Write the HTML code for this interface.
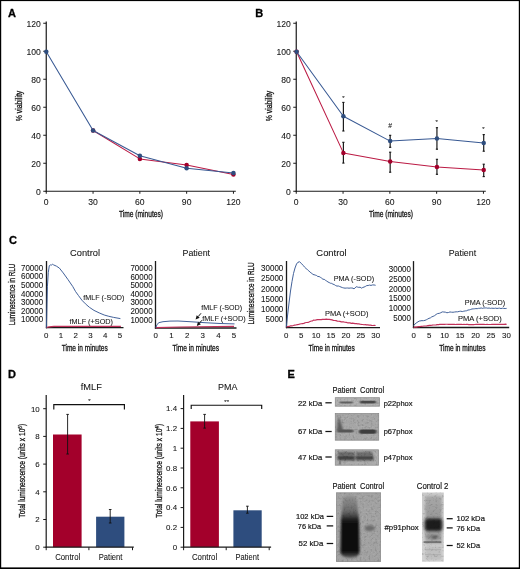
<!DOCTYPE html>
<html><head><meta charset="utf-8"><style>
html,body{margin:0;padding:0;background:#fff;}
svg{display:block;font-family:"Liberation Sans", sans-serif;} text{opacity:0.999}
</style></head><body>
<svg width="520" height="569" viewBox="0 0 520 569">
<rect width="520" height="569" fill="#fff"/>
<rect x="0" y="0" width="520" height="1.1" fill="#000"/>
<rect x="0" y="0" width="1.2" height="569" fill="#000"/>
<rect x="518.8" y="0" width="1.2" height="569" fill="#000"/>
<rect x="0" y="567.4" width="520" height="1.6" fill="#000"/>
<text x="8" y="17" font-size="11" text-anchor="start" font-weight="bold" fill="#000" stroke="#000" stroke-width="0.3">A</text>
<line x1="46.25" y1="21.5" x2="46.25" y2="191.85" stroke="#1a1a1a" stroke-width="1.2"/>
<line x1="45.65" y1="191.25" x2="235.8" y2="191.25" stroke="#1a1a1a" stroke-width="1.2"/>
<line x1="43.25" y1="191.25" x2="46.25" y2="191.25" stroke="#1a1a1a" stroke-width="1"/>
<text x="40.75" y="195.15" font-size="8.6" text-anchor="end" font-weight="normal" fill="#161616" stroke="#161616" stroke-width="0.08">0</text>
<line x1="43.25" y1="163.25" x2="46.25" y2="163.25" stroke="#1a1a1a" stroke-width="1"/>
<text x="40.75" y="167.15" font-size="8.6" text-anchor="end" font-weight="normal" fill="#161616" stroke="#161616" stroke-width="0.08">20</text>
<line x1="43.25" y1="135.25" x2="46.25" y2="135.25" stroke="#1a1a1a" stroke-width="1"/>
<text x="40.75" y="139.15" font-size="8.6" text-anchor="end" font-weight="normal" fill="#161616" stroke="#161616" stroke-width="0.08">40</text>
<line x1="43.25" y1="107.25" x2="46.25" y2="107.25" stroke="#1a1a1a" stroke-width="1"/>
<text x="40.75" y="111.15" font-size="8.6" text-anchor="end" font-weight="normal" fill="#161616" stroke="#161616" stroke-width="0.08">60</text>
<line x1="43.25" y1="79.25" x2="46.25" y2="79.25" stroke="#1a1a1a" stroke-width="1"/>
<text x="40.75" y="83.15" font-size="8.6" text-anchor="end" font-weight="normal" fill="#161616" stroke="#161616" stroke-width="0.08">80</text>
<line x1="43.25" y1="51.25" x2="46.25" y2="51.25" stroke="#1a1a1a" stroke-width="1"/>
<text x="40.75" y="55.15" font-size="8.6" text-anchor="end" font-weight="normal" fill="#161616" stroke="#161616" stroke-width="0.08">100</text>
<line x1="43.25" y1="23.25" x2="46.25" y2="23.25" stroke="#1a1a1a" stroke-width="1"/>
<text x="40.75" y="27.15" font-size="8.6" text-anchor="end" font-weight="normal" fill="#161616" stroke="#161616" stroke-width="0.08">120</text>
<line x1="46.25" y1="191.25" x2="46.25" y2="193.75" stroke="#1a1a1a" stroke-width="1"/>
<text x="46.25" y="204.6" font-size="8.6" text-anchor="middle" font-weight="normal" fill="#161616" stroke="#161616" stroke-width="0.08">0</text>
<line x1="93.05" y1="191.25" x2="93.05" y2="193.75" stroke="#1a1a1a" stroke-width="1"/>
<text x="93.05" y="204.6" font-size="8.6" text-anchor="middle" font-weight="normal" fill="#161616" stroke="#161616" stroke-width="0.08">30</text>
<line x1="139.85" y1="191.25" x2="139.85" y2="193.75" stroke="#1a1a1a" stroke-width="1"/>
<text x="139.85" y="204.6" font-size="8.6" text-anchor="middle" font-weight="normal" fill="#161616" stroke="#161616" stroke-width="0.08">60</text>
<line x1="186.64999999999998" y1="191.25" x2="186.64999999999998" y2="193.75" stroke="#1a1a1a" stroke-width="1"/>
<text x="186.64999999999998" y="204.6" font-size="8.6" text-anchor="middle" font-weight="normal" fill="#161616" stroke="#161616" stroke-width="0.08">90</text>
<line x1="233.45" y1="191.25" x2="233.45" y2="193.75" stroke="#1a1a1a" stroke-width="1"/>
<text x="233.45" y="204.6" font-size="8.6" text-anchor="middle" font-weight="normal" fill="#161616" stroke="#161616" stroke-width="0.08">120</text>
<text x="141" y="216.8" font-size="9" text-anchor="middle" font-weight="normal" fill="#161616" stroke="#161616" stroke-width="0.32" textLength="44" lengthAdjust="spacingAndGlyphs">Time (minutes)</text>
<text transform="translate(21.8,106) rotate(-90)" x="0" y="0" font-size="9" text-anchor="middle" fill="#161616" stroke="#161616" stroke-width="0.32" textLength="30.5" lengthAdjust="spacingAndGlyphs">% viability</text>
<polyline points="93.08,130.50 139.86,158.90 186.64,164.90 233.42,174.60" fill="none" stroke="#bb1a44" stroke-width="1.05" stroke-linejoin="round"/>
<circle cx="93.08" cy="130.5" r="2.25" fill="#a3002b"/>
<circle cx="139.86" cy="158.9" r="2.25" fill="#a3002b"/>
<circle cx="186.64" cy="164.9" r="2.25" fill="#a3002b"/>
<circle cx="233.42000000000002" cy="174.6" r="2.25" fill="#a3002b"/>
<polyline points="46.30,51.80 93.08,130.50 139.86,155.70 186.64,168.20 233.42,173.00" fill="none" stroke="#385993" stroke-width="1.05" stroke-linejoin="round"/>
<circle cx="46.3" cy="51.8" r="2.25" fill="#2e4d7e"/>
<circle cx="93.08" cy="130.5" r="2.25" fill="#2e4d7e"/>
<circle cx="139.86" cy="155.7" r="2.25" fill="#2e4d7e"/>
<circle cx="186.64" cy="168.2" r="2.25" fill="#2e4d7e"/>
<circle cx="233.42000000000002" cy="173" r="2.25" fill="#2e4d7e"/>
<text x="255.3" y="17" font-size="11" text-anchor="start" font-weight="bold" fill="#000" stroke="#000" stroke-width="0.3">B</text>
<line x1="296.25" y1="21.5" x2="296.25" y2="191.85" stroke="#1a1a1a" stroke-width="1.2"/>
<line x1="295.65" y1="191.25" x2="485.8" y2="191.25" stroke="#1a1a1a" stroke-width="1.2"/>
<line x1="293.25" y1="191.25" x2="296.25" y2="191.25" stroke="#1a1a1a" stroke-width="1"/>
<text x="290.75" y="195.15" font-size="8.6" text-anchor="end" font-weight="normal" fill="#161616" stroke="#161616" stroke-width="0.08">0</text>
<line x1="293.25" y1="163.25" x2="296.25" y2="163.25" stroke="#1a1a1a" stroke-width="1"/>
<text x="290.75" y="167.15" font-size="8.6" text-anchor="end" font-weight="normal" fill="#161616" stroke="#161616" stroke-width="0.08">20</text>
<line x1="293.25" y1="135.25" x2="296.25" y2="135.25" stroke="#1a1a1a" stroke-width="1"/>
<text x="290.75" y="139.15" font-size="8.6" text-anchor="end" font-weight="normal" fill="#161616" stroke="#161616" stroke-width="0.08">40</text>
<line x1="293.25" y1="107.25" x2="296.25" y2="107.25" stroke="#1a1a1a" stroke-width="1"/>
<text x="290.75" y="111.15" font-size="8.6" text-anchor="end" font-weight="normal" fill="#161616" stroke="#161616" stroke-width="0.08">60</text>
<line x1="293.25" y1="79.25" x2="296.25" y2="79.25" stroke="#1a1a1a" stroke-width="1"/>
<text x="290.75" y="83.15" font-size="8.6" text-anchor="end" font-weight="normal" fill="#161616" stroke="#161616" stroke-width="0.08">80</text>
<line x1="293.25" y1="51.25" x2="296.25" y2="51.25" stroke="#1a1a1a" stroke-width="1"/>
<text x="290.75" y="55.15" font-size="8.6" text-anchor="end" font-weight="normal" fill="#161616" stroke="#161616" stroke-width="0.08">100</text>
<line x1="293.25" y1="23.25" x2="296.25" y2="23.25" stroke="#1a1a1a" stroke-width="1"/>
<text x="290.75" y="27.15" font-size="8.6" text-anchor="end" font-weight="normal" fill="#161616" stroke="#161616" stroke-width="0.08">120</text>
<line x1="296.25" y1="191.25" x2="296.25" y2="193.75" stroke="#1a1a1a" stroke-width="1"/>
<text x="296.25" y="204.6" font-size="8.6" text-anchor="middle" font-weight="normal" fill="#161616" stroke="#161616" stroke-width="0.08">0</text>
<line x1="343.05" y1="191.25" x2="343.05" y2="193.75" stroke="#1a1a1a" stroke-width="1"/>
<text x="343.05" y="204.6" font-size="8.6" text-anchor="middle" font-weight="normal" fill="#161616" stroke="#161616" stroke-width="0.08">30</text>
<line x1="389.85" y1="191.25" x2="389.85" y2="193.75" stroke="#1a1a1a" stroke-width="1"/>
<text x="389.85" y="204.6" font-size="8.6" text-anchor="middle" font-weight="normal" fill="#161616" stroke="#161616" stroke-width="0.08">60</text>
<line x1="436.65" y1="191.25" x2="436.65" y2="193.75" stroke="#1a1a1a" stroke-width="1"/>
<text x="436.65" y="204.6" font-size="8.6" text-anchor="middle" font-weight="normal" fill="#161616" stroke="#161616" stroke-width="0.08">90</text>
<line x1="483.45" y1="191.25" x2="483.45" y2="193.75" stroke="#1a1a1a" stroke-width="1"/>
<text x="483.45" y="204.6" font-size="8.6" text-anchor="middle" font-weight="normal" fill="#161616" stroke="#161616" stroke-width="0.08">120</text>
<text x="391" y="216.8" font-size="9" text-anchor="middle" font-weight="normal" fill="#161616" stroke="#161616" stroke-width="0.32" textLength="44" lengthAdjust="spacingAndGlyphs">Time (minutes)</text>
<text transform="translate(271.8,106) rotate(-90)" x="0" y="0" font-size="9" text-anchor="middle" fill="#161616" stroke="#161616" stroke-width="0.32" textLength="30.5" lengthAdjust="spacingAndGlyphs">% viability</text>
<line x1="343.38" y1="102.4" x2="343.38" y2="131" stroke="#111" stroke-width="1.15"/>
<line x1="342.28" y1="102.4" x2="344.48" y2="102.4" stroke="#111" stroke-width="1.1"/>
<line x1="342.28" y1="131" x2="344.48" y2="131" stroke="#111" stroke-width="1.1"/>
<line x1="390.16" y1="135.3" x2="390.16" y2="147.3" stroke="#111" stroke-width="1.15"/>
<line x1="389.06" y1="135.3" x2="391.26000000000005" y2="135.3" stroke="#111" stroke-width="1.1"/>
<line x1="389.06" y1="147.3" x2="391.26000000000005" y2="147.3" stroke="#111" stroke-width="1.1"/>
<line x1="436.94000000000005" y1="127.7" x2="436.94000000000005" y2="149.2" stroke="#111" stroke-width="1.15"/>
<line x1="435.84000000000003" y1="127.7" x2="438.0400000000001" y2="127.7" stroke="#111" stroke-width="1.1"/>
<line x1="435.84000000000003" y1="149.2" x2="438.0400000000001" y2="149.2" stroke="#111" stroke-width="1.1"/>
<line x1="483.72" y1="134.6" x2="483.72" y2="151.2" stroke="#111" stroke-width="1.15"/>
<line x1="482.62" y1="134.6" x2="484.82000000000005" y2="134.6" stroke="#111" stroke-width="1.1"/>
<line x1="482.62" y1="151.2" x2="484.82000000000005" y2="151.2" stroke="#111" stroke-width="1.1"/>
<line x1="343.38" y1="142.3" x2="343.38" y2="163.1" stroke="#111" stroke-width="1.15"/>
<line x1="342.28" y1="142.3" x2="344.48" y2="142.3" stroke="#111" stroke-width="1.1"/>
<line x1="342.28" y1="163.1" x2="344.48" y2="163.1" stroke="#111" stroke-width="1.1"/>
<line x1="390.16" y1="152.2" x2="390.16" y2="172.2" stroke="#111" stroke-width="1.15"/>
<line x1="389.06" y1="152.2" x2="391.26000000000005" y2="152.2" stroke="#111" stroke-width="1.1"/>
<line x1="389.06" y1="172.2" x2="391.26000000000005" y2="172.2" stroke="#111" stroke-width="1.1"/>
<line x1="436.94000000000005" y1="159.3" x2="436.94000000000005" y2="174.3" stroke="#111" stroke-width="1.15"/>
<line x1="435.84000000000003" y1="159.3" x2="438.0400000000001" y2="159.3" stroke="#111" stroke-width="1.1"/>
<line x1="435.84000000000003" y1="174.3" x2="438.0400000000001" y2="174.3" stroke="#111" stroke-width="1.1"/>
<line x1="483.72" y1="164.2" x2="483.72" y2="176.6" stroke="#111" stroke-width="1.15"/>
<line x1="482.62" y1="164.2" x2="484.82000000000005" y2="164.2" stroke="#111" stroke-width="1.1"/>
<line x1="482.62" y1="176.6" x2="484.82000000000005" y2="176.6" stroke="#111" stroke-width="1.1"/>
<polyline points="296.60,51.80 343.38,152.90 390.16,161.60 436.94,166.90 483.72,169.90" fill="none" stroke="#bb1a44" stroke-width="1.05" stroke-linejoin="round"/>
<circle cx="296.6" cy="51.8" r="2.25" fill="#a3002b"/>
<circle cx="343.38" cy="152.9" r="2.25" fill="#a3002b"/>
<circle cx="390.16" cy="161.6" r="2.25" fill="#a3002b"/>
<circle cx="436.94000000000005" cy="166.9" r="2.25" fill="#a3002b"/>
<circle cx="483.72" cy="169.9" r="2.25" fill="#a3002b"/>
<polyline points="296.60,51.80 343.38,116.20 390.16,141.10 436.94,138.50 483.72,142.90" fill="none" stroke="#385993" stroke-width="1.05" stroke-linejoin="round"/>
<circle cx="296.6" cy="51.8" r="2.25" fill="#2e4d7e"/>
<circle cx="343.38" cy="116.2" r="2.25" fill="#2e4d7e"/>
<circle cx="390.16" cy="141.1" r="2.25" fill="#2e4d7e"/>
<circle cx="436.94000000000005" cy="138.5" r="2.25" fill="#2e4d7e"/>
<circle cx="483.72" cy="142.9" r="2.25" fill="#2e4d7e"/>
<text x="343.3" y="99.5" font-size="6" text-anchor="middle" font-weight="normal" fill="#161616" stroke="#161616" stroke-width="0.08">*</text>
<text x="390.2" y="127.9" font-size="6.8" text-anchor="middle" font-weight="normal" fill="#161616" stroke="#161616" stroke-width="0.08">#</text>
<text x="436.7" y="124" font-size="6" text-anchor="middle" font-weight="normal" fill="#161616" stroke="#161616" stroke-width="0.08">*</text>
<text x="483.5" y="131" font-size="6" text-anchor="middle" font-weight="normal" fill="#161616" stroke="#161616" stroke-width="0.08">*</text>
<text x="9" y="244.3" font-size="11" text-anchor="start" font-weight="bold" fill="#000" stroke="#000" stroke-width="0.3">C</text>
<text x="85" y="255.8" font-size="9.6" text-anchor="middle" font-weight="normal" fill="#161616" stroke="#161616" stroke-width="0.08" textLength="30" lengthAdjust="spacingAndGlyphs">Control</text>
<line x1="46.5" y1="261" x2="46.5" y2="328.3" stroke="#1a1a1a" stroke-width="1.3"/>
<line x1="45.9" y1="327.7" x2="123.5" y2="327.7" stroke="#1a1a1a" stroke-width="1.3"/>
<text x="43.2" y="270.9" font-size="8.2" text-anchor="end" font-weight="normal" fill="#161616" stroke="#161616" stroke-width="0.08" textLength="22.2" lengthAdjust="spacingAndGlyphs">70000</text>
<text x="43.2" y="279.47999999999996" font-size="8.2" text-anchor="end" font-weight="normal" fill="#161616" stroke="#161616" stroke-width="0.08" textLength="22.2" lengthAdjust="spacingAndGlyphs">60000</text>
<text x="43.2" y="288.06" font-size="8.2" text-anchor="end" font-weight="normal" fill="#161616" stroke="#161616" stroke-width="0.08" textLength="22.2" lengthAdjust="spacingAndGlyphs">50000</text>
<text x="43.2" y="296.64" font-size="8.2" text-anchor="end" font-weight="normal" fill="#161616" stroke="#161616" stroke-width="0.08" textLength="22.2" lengthAdjust="spacingAndGlyphs">40000</text>
<text x="43.2" y="305.21999999999997" font-size="8.2" text-anchor="end" font-weight="normal" fill="#161616" stroke="#161616" stroke-width="0.08" textLength="22.2" lengthAdjust="spacingAndGlyphs">30000</text>
<text x="43.2" y="313.79999999999995" font-size="8.2" text-anchor="end" font-weight="normal" fill="#161616" stroke="#161616" stroke-width="0.08" textLength="22.2" lengthAdjust="spacingAndGlyphs">20000</text>
<text x="43.2" y="322.38" font-size="8.2" text-anchor="end" font-weight="normal" fill="#161616" stroke="#161616" stroke-width="0.08" textLength="22.2" lengthAdjust="spacingAndGlyphs">10000</text>
<text x="46.3" y="337.9" font-size="7.9" text-anchor="middle" font-weight="normal" fill="#161616" stroke="#161616" stroke-width="0.08">0</text>
<text x="61.019999999999996" y="337.9" font-size="7.9" text-anchor="middle" font-weight="normal" fill="#161616" stroke="#161616" stroke-width="0.08">1</text>
<text x="75.74" y="337.9" font-size="7.9" text-anchor="middle" font-weight="normal" fill="#161616" stroke="#161616" stroke-width="0.08">2</text>
<text x="90.46000000000001" y="337.9" font-size="7.9" text-anchor="middle" font-weight="normal" fill="#161616" stroke="#161616" stroke-width="0.08">3</text>
<text x="105.18" y="337.9" font-size="7.9" text-anchor="middle" font-weight="normal" fill="#161616" stroke="#161616" stroke-width="0.08">4</text>
<text x="119.9" y="337.9" font-size="7.9" text-anchor="middle" font-weight="normal" fill="#161616" stroke="#161616" stroke-width="0.08">5</text>
<text x="84.7" y="351.2" font-size="9" text-anchor="middle" font-weight="normal" fill="#161616" stroke="#161616" stroke-width="0.32" textLength="46" lengthAdjust="spacingAndGlyphs">Time in minutes</text>
<text transform="translate(14.8,294.4) rotate(-90)" x="0" y="0" font-size="9" text-anchor="middle" fill="#161616" stroke="#161616" stroke-width="0.32" textLength="61.5" lengthAdjust="spacingAndGlyphs">Luminescence in RLU</text>
<polyline points="46.40,327.60 49.00,326.80 54.00,326.40 70.00,326.30 120.90,326.30" fill="none" stroke="#c2305a" stroke-width="1.2" stroke-linejoin="round"/>
<polyline points="46.40,327.70 47.40,286.80 48.30,272.40 49.30,265.70 50.25,264.90 51.20,265.20 52.65,264.25 53.60,264.90 56.50,266.20 59.40,268.10 63.20,272.90 68.00,279.60 72.80,286.60 75.60,291.60 78.50,295.60 81.90,300.20 85.40,303.80 89.40,307.30 94.00,310.40 99.20,312.90 104.20,315.00 108.80,316.30 113.65,317.40 120.40,318.60" fill="none" stroke="#385993" stroke-width="0.95" stroke-linejoin="round"/>
<text x="83.3" y="299.6" font-size="7.8" text-anchor="start" font-weight="normal" fill="#161616" stroke="#161616" stroke-width="0.08" textLength="41" lengthAdjust="spacingAndGlyphs">fMLF (-SOD)</text>
<text x="69.5" y="324.3" font-size="7.8" text-anchor="start" font-weight="normal" fill="#161616" stroke="#161616" stroke-width="0.08" textLength="43.5" lengthAdjust="spacingAndGlyphs">fMLF (+SOD)</text>
<text x="196.3" y="255.8" font-size="9.6" text-anchor="middle" font-weight="normal" fill="#161616" stroke="#161616" stroke-width="0.08" textLength="27.5" lengthAdjust="spacingAndGlyphs">Patient</text>
<line x1="155.5" y1="261" x2="155.5" y2="328.6" stroke="#1a1a1a" stroke-width="1.3"/>
<line x1="154.9" y1="328" x2="236.5" y2="328" stroke="#1a1a1a" stroke-width="1.3"/>
<text x="152.6" y="271.2" font-size="8.2" text-anchor="end" font-weight="normal" fill="#161616" stroke="#161616" stroke-width="0.08" textLength="22.2" lengthAdjust="spacingAndGlyphs">70000</text>
<text x="152.6" y="279.75" font-size="8.2" text-anchor="end" font-weight="normal" fill="#161616" stroke="#161616" stroke-width="0.08" textLength="22.2" lengthAdjust="spacingAndGlyphs">60000</text>
<text x="152.6" y="288.3" font-size="8.2" text-anchor="end" font-weight="normal" fill="#161616" stroke="#161616" stroke-width="0.08" textLength="22.2" lengthAdjust="spacingAndGlyphs">50000</text>
<text x="152.6" y="296.84999999999997" font-size="8.2" text-anchor="end" font-weight="normal" fill="#161616" stroke="#161616" stroke-width="0.08" textLength="22.2" lengthAdjust="spacingAndGlyphs">40000</text>
<text x="152.6" y="305.4" font-size="8.2" text-anchor="end" font-weight="normal" fill="#161616" stroke="#161616" stroke-width="0.08" textLength="22.2" lengthAdjust="spacingAndGlyphs">30000</text>
<text x="152.6" y="313.95" font-size="8.2" text-anchor="end" font-weight="normal" fill="#161616" stroke="#161616" stroke-width="0.08" textLength="22.2" lengthAdjust="spacingAndGlyphs">20000</text>
<text x="152.6" y="322.5" font-size="8.2" text-anchor="end" font-weight="normal" fill="#161616" stroke="#161616" stroke-width="0.08" textLength="22.2" lengthAdjust="spacingAndGlyphs">10000</text>
<text x="155.8" y="337.9" font-size="7.9" text-anchor="middle" font-weight="normal" fill="#161616" stroke="#161616" stroke-width="0.08">0</text>
<text x="171.44" y="337.9" font-size="7.9" text-anchor="middle" font-weight="normal" fill="#161616" stroke="#161616" stroke-width="0.08">1</text>
<text x="187.08" y="337.9" font-size="7.9" text-anchor="middle" font-weight="normal" fill="#161616" stroke="#161616" stroke-width="0.08">2</text>
<text x="202.72000000000003" y="337.9" font-size="7.9" text-anchor="middle" font-weight="normal" fill="#161616" stroke="#161616" stroke-width="0.08">3</text>
<text x="218.36" y="337.9" font-size="7.9" text-anchor="middle" font-weight="normal" fill="#161616" stroke="#161616" stroke-width="0.08">4</text>
<text x="234.0" y="337.9" font-size="7.9" text-anchor="middle" font-weight="normal" fill="#161616" stroke="#161616" stroke-width="0.08">5</text>
<text x="195.8" y="351.2" font-size="9" text-anchor="middle" font-weight="normal" fill="#161616" stroke="#161616" stroke-width="0.32" textLength="46.5" lengthAdjust="spacingAndGlyphs">Time in minutes</text>
<polyline points="155.80,327.60 180.00,327.00 234.00,326.30" fill="none" stroke="#c2305a" stroke-width="1.2" stroke-linejoin="round"/>
<polyline points="155.80,327.70 157.00,324.50 159.00,322.60 163.00,321.70 170.00,321.10 178.00,321.00 190.00,321.70 205.00,322.70 220.00,323.50 234.50,323.90" fill="none" stroke="#385993" stroke-width="0.95" stroke-linejoin="round"/>
<text x="201.2" y="310.2" font-size="7.8" text-anchor="start" font-weight="normal" fill="#161616" stroke="#161616" stroke-width="0.08" textLength="41" lengthAdjust="spacingAndGlyphs">fMLF (-SOD)</text>
<text x="202.3" y="320.8" font-size="7.8" text-anchor="start" font-weight="normal" fill="#161616" stroke="#161616" stroke-width="0.08" textLength="43.3" lengthAdjust="spacingAndGlyphs">fMLF (+SOD)</text>
<text x="331.5" y="255.8" font-size="9.6" text-anchor="middle" font-weight="normal" fill="#161616" stroke="#161616" stroke-width="0.08" textLength="30.3" lengthAdjust="spacingAndGlyphs">Control</text>
<line x1="286.5" y1="261" x2="286.5" y2="328.20000000000005" stroke="#1a1a1a" stroke-width="1.3"/>
<line x1="285.9" y1="327.6" x2="380" y2="327.6" stroke="#1a1a1a" stroke-width="1.3"/>
<text x="283.3" y="271.09999999999997" font-size="8.2" text-anchor="end" font-weight="normal" fill="#161616" stroke="#161616" stroke-width="0.08" textLength="22.2" lengthAdjust="spacingAndGlyphs">30000</text>
<text x="283.3" y="281.29999999999995" font-size="8.2" text-anchor="end" font-weight="normal" fill="#161616" stroke="#161616" stroke-width="0.08" textLength="22.2" lengthAdjust="spacingAndGlyphs">25000</text>
<text x="283.3" y="291.49999999999994" font-size="8.2" text-anchor="end" font-weight="normal" fill="#161616" stroke="#161616" stroke-width="0.08" textLength="22.2" lengthAdjust="spacingAndGlyphs">20000</text>
<text x="283.3" y="301.7" font-size="8.2" text-anchor="end" font-weight="normal" fill="#161616" stroke="#161616" stroke-width="0.08" textLength="22.2" lengthAdjust="spacingAndGlyphs">15000</text>
<text x="283.3" y="311.9" font-size="8.2" text-anchor="end" font-weight="normal" fill="#161616" stroke="#161616" stroke-width="0.08" textLength="22.2" lengthAdjust="spacingAndGlyphs">10000</text>
<text x="283.3" y="322.09999999999997" font-size="8.2" text-anchor="end" font-weight="normal" fill="#161616" stroke="#161616" stroke-width="0.08" textLength="17.8" lengthAdjust="spacingAndGlyphs">5000</text>
<text x="286.3" y="337.9" font-size="7.9" text-anchor="middle" font-weight="normal" fill="#161616" stroke="#161616" stroke-width="0.08">0</text>
<text x="301.2" y="337.9" font-size="7.9" text-anchor="middle" font-weight="normal" fill="#161616" stroke="#161616" stroke-width="0.08">5</text>
<text x="316.1" y="337.9" font-size="7.9" text-anchor="middle" font-weight="normal" fill="#161616" stroke="#161616" stroke-width="0.08">10</text>
<text x="331.0" y="337.9" font-size="7.9" text-anchor="middle" font-weight="normal" fill="#161616" stroke="#161616" stroke-width="0.08">15</text>
<text x="345.90000000000003" y="337.9" font-size="7.9" text-anchor="middle" font-weight="normal" fill="#161616" stroke="#161616" stroke-width="0.08">20</text>
<text x="360.8" y="337.9" font-size="7.9" text-anchor="middle" font-weight="normal" fill="#161616" stroke="#161616" stroke-width="0.08">25</text>
<text x="375.70000000000005" y="337.9" font-size="7.9" text-anchor="middle" font-weight="normal" fill="#161616" stroke="#161616" stroke-width="0.08">30</text>
<text x="331.7" y="351.2" font-size="9" text-anchor="middle" font-weight="normal" fill="#161616" stroke="#161616" stroke-width="0.32" textLength="46.2" lengthAdjust="spacingAndGlyphs">Time in minutes</text>
<text transform="translate(254.3,293.4) rotate(-90)" x="0" y="0" font-size="9" text-anchor="middle" fill="#161616" stroke="#161616" stroke-width="0.32" textLength="62" lengthAdjust="spacingAndGlyphs">Luminescence in RLU</text>
<polyline points="286.30,326.93 287.73,326.56 289.15,326.46 290.57,325.93 292.00,325.81 293.33,325.48 294.67,325.09 296.00,325.00 297.33,324.55 298.67,324.44 300.00,324.03 301.28,323.72 302.57,323.54 303.85,323.38 305.13,322.78 306.42,322.51 307.70,322.35 308.92,322.06 310.14,321.49 311.36,321.00 312.58,320.81 313.80,320.02 315.04,320.22 316.28,319.88 317.52,319.70 318.76,319.57 320.00,319.52 321.24,319.65 322.48,319.31 323.72,319.39 324.96,319.34 326.20,319.15 327.73,319.42 329.27,319.43 330.80,319.62 332.11,319.93 333.43,320.36 334.74,320.50 336.06,320.70 337.37,321.05 338.69,321.24 340.00,321.42 341.25,321.81 342.50,321.95 343.75,321.96 345.00,322.28 346.25,322.45 347.50,322.78 348.75,322.90 350.00,322.92 351.27,323.34 352.55,323.14 353.82,323.40 355.09,323.68 356.36,323.59 357.64,323.87 358.91,323.83 360.18,324.23 361.45,324.41 362.73,324.48 364.00,324.75 365.29,324.63 366.58,324.88 367.87,324.94 369.16,325.03 370.44,325.08 371.73,325.34 373.02,325.48 374.31,325.39 375.60,325.50" fill="none" stroke="#c2305a" stroke-width="1.2" stroke-linejoin="round"/>
<polyline points="286.30,326.90 287.50,316.00 289.00,303.00 290.50,291.00 292.00,281.50 293.50,273.50 295.00,268.00 296.50,264.00 298.00,262.20 298.00,262.33 299.50,261.65 301.00,263.16 303.30,265.52 304.70,267.26 306.10,268.59 307.50,269.63 308.82,270.88 310.15,272.28 311.48,272.94 312.80,274.47 314.06,274.69 315.32,275.11 316.58,275.53 317.84,276.55 319.10,276.50 320.38,277.32 321.66,278.15 322.94,279.26 324.22,279.34 325.50,280.36 326.73,281.07 327.97,281.97 329.20,282.56 330.43,283.22 331.67,283.39 332.90,284.13 334.26,284.60 335.61,285.54 336.97,286.11 338.33,285.98 339.69,286.51 341.04,287.07 342.40,287.59 343.72,287.94 345.05,288.17 346.38,288.06 347.70,288.00 349.02,288.19 350.35,288.00 351.68,288.00 353.00,288.16 354.00,288.95 356.20,286.71 357.50,287.07 358.80,287.39 360.10,287.17 361.40,288.12 362.72,287.50 364.05,287.05 365.38,286.46 366.70,285.61 368.13,285.49 369.57,285.12 371.00,285.41 372.53,284.95 374.07,284.95 375.60,285.30" fill="none" stroke="#385993" stroke-width="0.95" stroke-linejoin="round"/>
<text x="333.7" y="280.5" font-size="7.8" text-anchor="start" font-weight="normal" fill="#161616" stroke="#161616" stroke-width="0.08" textLength="40.4" lengthAdjust="spacingAndGlyphs">PMA (-SOD)</text>
<text x="325" y="315.6" font-size="7.8" text-anchor="start" font-weight="normal" fill="#161616" stroke="#161616" stroke-width="0.08" textLength="43.4" lengthAdjust="spacingAndGlyphs">PMA (+SOD)</text>
<text x="462.4" y="255.8" font-size="9.6" text-anchor="middle" font-weight="normal" fill="#161616" stroke="#161616" stroke-width="0.08" textLength="27.4" lengthAdjust="spacingAndGlyphs">Patient</text>
<line x1="413.5" y1="261.1" x2="413.5" y2="328.1" stroke="#1a1a1a" stroke-width="1.3"/>
<line x1="412.9" y1="327.5" x2="509.2" y2="327.5" stroke="#1a1a1a" stroke-width="1.3"/>
<text x="411" y="272.09999999999997" font-size="8.2" text-anchor="end" font-weight="normal" fill="#161616" stroke="#161616" stroke-width="0.08" textLength="22.2" lengthAdjust="spacingAndGlyphs">30000</text>
<text x="411" y="281.84" font-size="8.2" text-anchor="end" font-weight="normal" fill="#161616" stroke="#161616" stroke-width="0.08" textLength="22.2" lengthAdjust="spacingAndGlyphs">25000</text>
<text x="411" y="291.58" font-size="8.2" text-anchor="end" font-weight="normal" fill="#161616" stroke="#161616" stroke-width="0.08" textLength="22.2" lengthAdjust="spacingAndGlyphs">20000</text>
<text x="411" y="301.31999999999994" font-size="8.2" text-anchor="end" font-weight="normal" fill="#161616" stroke="#161616" stroke-width="0.08" textLength="22.2" lengthAdjust="spacingAndGlyphs">15000</text>
<text x="411" y="311.05999999999995" font-size="8.2" text-anchor="end" font-weight="normal" fill="#161616" stroke="#161616" stroke-width="0.08" textLength="22.2" lengthAdjust="spacingAndGlyphs">10000</text>
<text x="411" y="320.79999999999995" font-size="8.2" text-anchor="end" font-weight="normal" fill="#161616" stroke="#161616" stroke-width="0.08" textLength="17.8" lengthAdjust="spacingAndGlyphs">5000</text>
<text x="413.6" y="337.9" font-size="7.9" text-anchor="middle" font-weight="normal" fill="#161616" stroke="#161616" stroke-width="0.08">0</text>
<text x="429.08000000000004" y="337.9" font-size="7.9" text-anchor="middle" font-weight="normal" fill="#161616" stroke="#161616" stroke-width="0.08">5</text>
<text x="444.56" y="337.9" font-size="7.9" text-anchor="middle" font-weight="normal" fill="#161616" stroke="#161616" stroke-width="0.08">10</text>
<text x="460.04" y="337.9" font-size="7.9" text-anchor="middle" font-weight="normal" fill="#161616" stroke="#161616" stroke-width="0.08">15</text>
<text x="475.52000000000004" y="337.9" font-size="7.9" text-anchor="middle" font-weight="normal" fill="#161616" stroke="#161616" stroke-width="0.08">20</text>
<text x="491.0" y="337.9" font-size="7.9" text-anchor="middle" font-weight="normal" fill="#161616" stroke="#161616" stroke-width="0.08">25</text>
<text x="506.48" y="337.9" font-size="7.9" text-anchor="middle" font-weight="normal" fill="#161616" stroke="#161616" stroke-width="0.08">30</text>
<text x="462.3" y="351.2" font-size="9" text-anchor="middle" font-weight="normal" fill="#161616" stroke="#161616" stroke-width="0.32" textLength="46.3" lengthAdjust="spacingAndGlyphs">Time in minutes</text>
<polyline points="413.60,327.34 414.88,327.17 416.16,327.05 417.44,326.83 418.72,326.66 420.00,326.53 421.33,326.35 422.67,326.24 424.00,326.01 425.33,326.01 426.67,325.79 428.00,325.53 429.33,325.42 430.67,325.30 432.00,325.17 433.33,324.99 434.67,325.00 436.00,324.90 437.25,324.71 438.50,324.63 439.75,324.47 441.00,324.39 442.25,324.35 443.50,324.25 444.70,324.37 445.91,324.25 447.11,324.23 448.32,324.43 449.52,324.35 450.73,324.28 451.93,324.37 453.14,324.28 454.34,324.39 455.55,324.49 456.75,324.47 457.95,324.45 459.16,324.37 460.36,324.40 461.57,324.37 462.77,324.50 463.98,324.46 465.18,324.52 466.39,324.44 467.59,324.43 468.80,324.55 470.00,324.60 471.22,324.56 472.44,324.55 473.66,324.54 474.88,324.52 476.10,324.41 477.32,324.46 478.54,324.42 479.76,324.35 480.98,324.35 482.20,324.39 483.42,324.38 484.64,324.46 485.86,324.50 487.08,324.40 488.30,324.49 489.52,324.49 490.74,324.48 491.96,324.35 493.18,324.32 494.40,324.31 495.62,324.30 496.84,324.29 498.06,324.37 499.28,324.42 500.50,324.40 501.72,324.32 502.94,324.35 504.16,324.37 505.38,324.22 506.60,324.30" fill="none" stroke="#c2305a" stroke-width="1.2" stroke-linejoin="round"/>
<polyline points="413.60,325.60 415.00,324.00 416.90,322.50 419.20,321.10 422.00,320.60 422.00,320.70 423.50,320.65 425.00,320.37 426.33,319.78 427.67,319.05 429.00,318.31 430.37,317.91 431.73,316.87 433.10,316.38 434.63,315.62 436.17,314.40 437.70,313.54 439.23,313.37 440.77,312.73 442.30,311.90 443.83,312.01 445.37,312.16 446.90,312.74 448.43,312.52 449.97,311.95 451.50,312.20 453.03,312.25 454.57,312.03 456.10,311.81 457.65,311.80 459.20,311.41 460.75,311.21 462.27,311.58 463.78,311.19 465.30,310.92 466.62,310.76 467.95,310.06 469.28,309.92 470.60,309.50 471.93,308.99 473.25,308.88 474.57,308.76 475.90,308.59 477.22,308.66 478.55,308.33 479.88,308.29 481.20,307.98 482.52,308.37 483.85,307.96 485.18,307.95 486.50,307.95 487.80,308.22 489.10,308.00 490.40,308.38 491.70,308.20 493.02,308.29 494.35,308.36 495.68,308.14 497.00,308.46 498.32,308.28 499.65,308.15 500.98,308.60 502.30,308.20 503.73,308.38 505.17,308.54 506.60,308.40" fill="none" stroke="#385993" stroke-width="0.95" stroke-linejoin="round"/>
<text x="464.8" y="304.5" font-size="7.8" text-anchor="start" font-weight="normal" fill="#161616" stroke="#161616" stroke-width="0.08" textLength="40.4" lengthAdjust="spacingAndGlyphs">PMA (-SOD)</text>
<text x="458" y="321.2" font-size="7.8" text-anchor="start" font-weight="normal" fill="#161616" stroke="#161616" stroke-width="0.08" textLength="43.7" lengthAdjust="spacingAndGlyphs">PMA (+SOD)</text>
<line x1="201" y1="313.3" x2="198.20316549382386" y2="316.56297359053883" stroke="#111" stroke-width="1.0"/>
<polygon points="195.6,319.6 196.68,315.26 199.72,317.86" fill="#111"/>
<line x1="202" y1="320.2" x2="199.47018006300812" y2="323.02172223741405" stroke="#111" stroke-width="1.0"/>
<polygon points="196.8,326 197.98,321.69 200.96,324.36" fill="#111"/>
<text x="8.1" y="378.3" font-size="11" text-anchor="start" font-weight="bold" fill="#000" stroke="#000" stroke-width="0.3">D</text>
<text x="91.3" y="389.6" font-size="9.4" text-anchor="middle" font-weight="normal" fill="#161616" stroke="#161616" stroke-width="0.08" textLength="21" lengthAdjust="spacingAndGlyphs">fMLF</text>
<rect x="53" y="434.5" width="28.599999999999994" height="112.70000000000005" fill="#a3002b"/>
<rect x="96.1" y="516.7" width="28.30000000000001" height="30.5" fill="#2e4d7e"/>
<line x1="67.6" y1="414.4" x2="67.6" y2="454" stroke="#111" stroke-width="0.9"/>
<line x1="66.3" y1="414.4" x2="68.89999999999999" y2="414.4" stroke="#111" stroke-width="0.9"/>
<line x1="66.3" y1="454" x2="68.89999999999999" y2="454" stroke="#111" stroke-width="0.9"/>
<line x1="110.2" y1="509.5" x2="110.2" y2="523" stroke="#111" stroke-width="0.9"/>
<line x1="108.9" y1="509.5" x2="111.5" y2="509.5" stroke="#111" stroke-width="0.9"/>
<line x1="108.9" y1="523" x2="111.5" y2="523" stroke="#111" stroke-width="0.9"/>
<line x1="46.2" y1="395" x2="46.2" y2="547.8000000000001" stroke="#1a1a1a" stroke-width="1.2"/>
<line x1="45.6" y1="547.2" x2="133.8" y2="547.2" stroke="#1a1a1a" stroke-width="1.2"/>
<line x1="43.2" y1="547.2" x2="46.2" y2="547.2" stroke="#1a1a1a" stroke-width="1"/>
<text x="39.7" y="550.0" font-size="7.9" text-anchor="end" font-weight="normal" fill="#161616" stroke="#161616" stroke-width="0.08">0</text>
<line x1="43.2" y1="519.5" x2="46.2" y2="519.5" stroke="#1a1a1a" stroke-width="1"/>
<text x="39.7" y="522.3" font-size="7.9" text-anchor="end" font-weight="normal" fill="#161616" stroke="#161616" stroke-width="0.08">2</text>
<line x1="43.2" y1="491.80000000000007" x2="46.2" y2="491.80000000000007" stroke="#1a1a1a" stroke-width="1"/>
<text x="39.7" y="494.6000000000001" font-size="7.9" text-anchor="end" font-weight="normal" fill="#161616" stroke="#161616" stroke-width="0.08">4</text>
<line x1="43.2" y1="464.1" x2="46.2" y2="464.1" stroke="#1a1a1a" stroke-width="1"/>
<text x="39.7" y="466.90000000000003" font-size="7.9" text-anchor="end" font-weight="normal" fill="#161616" stroke="#161616" stroke-width="0.08">6</text>
<line x1="43.2" y1="436.40000000000003" x2="46.2" y2="436.40000000000003" stroke="#1a1a1a" stroke-width="1"/>
<text x="39.7" y="439.20000000000005" font-size="7.9" text-anchor="end" font-weight="normal" fill="#161616" stroke="#161616" stroke-width="0.08">8</text>
<line x1="43.2" y1="408.70000000000005" x2="46.2" y2="408.70000000000005" stroke="#1a1a1a" stroke-width="1"/>
<text x="39.7" y="411.50000000000006" font-size="7.9" text-anchor="end" font-weight="normal" fill="#161616" stroke="#161616" stroke-width="0.08">10</text>
<line x1="46.2" y1="547.2" x2="46.2" y2="550.2" stroke="#1a1a1a" stroke-width="1"/>
<line x1="88.9" y1="547.2" x2="88.9" y2="550.2" stroke="#1a1a1a" stroke-width="1"/>
<line x1="132.5" y1="547.2" x2="132.5" y2="550.2" stroke="#1a1a1a" stroke-width="1"/>
<polyline points="53.8,409.6 53.8,404.6 124.4,404.6 124.4,409.6" fill="none" stroke="#111" stroke-width="1.15"/>
<text x="89.4" y="403.4" font-size="6" text-anchor="middle" font-weight="normal" fill="#161616" stroke="#161616" stroke-width="0.08">*</text>
<text x="67.7" y="560.4" font-size="8.9" text-anchor="middle" font-weight="normal" fill="#161616" stroke="#161616" stroke-width="0.08" textLength="25" lengthAdjust="spacingAndGlyphs">Control</text>
<text x="110.6" y="560.4" font-size="8.9" text-anchor="middle" font-weight="normal" fill="#161616" stroke="#161616" stroke-width="0.08" textLength="23.7" lengthAdjust="spacingAndGlyphs">Patient</text>
<text transform="translate(25.2,470.8) rotate(-90)" font-size="9" text-anchor="middle" fill="#161616" stroke="#161616" stroke-width="0.3" textLength="93.8" lengthAdjust="spacingAndGlyphs">Total luminescence (units x 10<tspan font-size="6.2" dy="-3.2">6</tspan><tspan dy="3.2">)</tspan></text>
<text x="227.8" y="389.6" font-size="9.4" text-anchor="middle" font-weight="normal" fill="#161616" stroke="#161616" stroke-width="0.08" textLength="19.4" lengthAdjust="spacingAndGlyphs">PMA</text>
<rect x="190.3" y="421.4" width="28.599999999999994" height="125.80000000000007" fill="#a3002b"/>
<rect x="233.4" y="510.3" width="28.299999999999983" height="36.900000000000034" fill="#2e4d7e"/>
<line x1="204.6" y1="414.4" x2="204.6" y2="428.1" stroke="#111" stroke-width="0.9"/>
<line x1="203.29999999999998" y1="414.4" x2="205.9" y2="414.4" stroke="#111" stroke-width="0.9"/>
<line x1="203.29999999999998" y1="428.1" x2="205.9" y2="428.1" stroke="#111" stroke-width="0.9"/>
<line x1="247.4" y1="506.2" x2="247.4" y2="513.2" stroke="#111" stroke-width="0.9"/>
<line x1="246.1" y1="506.2" x2="248.70000000000002" y2="506.2" stroke="#111" stroke-width="0.9"/>
<line x1="246.1" y1="513.2" x2="248.70000000000002" y2="513.2" stroke="#111" stroke-width="0.9"/>
<line x1="183.6" y1="395" x2="183.6" y2="547.8000000000001" stroke="#1a1a1a" stroke-width="1.2"/>
<line x1="183.0" y1="547.2" x2="271.1" y2="547.2" stroke="#1a1a1a" stroke-width="1.2"/>
<line x1="180.6" y1="547.2" x2="183.6" y2="547.2" stroke="#1a1a1a" stroke-width="1"/>
<text x="177.1" y="550.0" font-size="7.9" text-anchor="end" font-weight="normal" fill="#161616" stroke="#161616" stroke-width="0.08">0</text>
<line x1="180.6" y1="527.4000000000001" x2="183.6" y2="527.4000000000001" stroke="#1a1a1a" stroke-width="1"/>
<text x="177.1" y="530.2" font-size="7.9" text-anchor="end" font-weight="normal" fill="#161616" stroke="#161616" stroke-width="0.08">0.2</text>
<line x1="180.6" y1="507.6" x2="183.6" y2="507.6" stroke="#1a1a1a" stroke-width="1"/>
<text x="177.1" y="510.40000000000003" font-size="7.9" text-anchor="end" font-weight="normal" fill="#161616" stroke="#161616" stroke-width="0.08">0.4</text>
<line x1="180.6" y1="487.80000000000007" x2="183.6" y2="487.80000000000007" stroke="#1a1a1a" stroke-width="1"/>
<text x="177.1" y="490.6000000000001" font-size="7.9" text-anchor="end" font-weight="normal" fill="#161616" stroke="#161616" stroke-width="0.08">0.6</text>
<line x1="180.6" y1="468.00000000000006" x2="183.6" y2="468.00000000000006" stroke="#1a1a1a" stroke-width="1"/>
<text x="177.1" y="470.80000000000007" font-size="7.9" text-anchor="end" font-weight="normal" fill="#161616" stroke="#161616" stroke-width="0.08">0.8</text>
<line x1="180.6" y1="448.20000000000005" x2="183.6" y2="448.20000000000005" stroke="#1a1a1a" stroke-width="1"/>
<text x="177.1" y="451.00000000000006" font-size="7.9" text-anchor="end" font-weight="normal" fill="#161616" stroke="#161616" stroke-width="0.08">1</text>
<line x1="180.6" y1="428.40000000000003" x2="183.6" y2="428.40000000000003" stroke="#1a1a1a" stroke-width="1"/>
<text x="177.1" y="431.20000000000005" font-size="7.9" text-anchor="end" font-weight="normal" fill="#161616" stroke="#161616" stroke-width="0.08">1.2</text>
<line x1="180.6" y1="408.6" x2="183.6" y2="408.6" stroke="#1a1a1a" stroke-width="1"/>
<text x="177.1" y="411.40000000000003" font-size="7.9" text-anchor="end" font-weight="normal" fill="#161616" stroke="#161616" stroke-width="0.08">1.4</text>
<line x1="183.6" y1="547.2" x2="183.6" y2="550.2" stroke="#1a1a1a" stroke-width="1"/>
<line x1="226.2" y1="547.2" x2="226.2" y2="550.2" stroke="#1a1a1a" stroke-width="1"/>
<line x1="269.2" y1="547.2" x2="269.2" y2="550.2" stroke="#1a1a1a" stroke-width="1"/>
<polyline points="191.2,409 191.2,405.2 261.7,405.2 261.7,409" fill="none" stroke="#111" stroke-width="1.15"/>
<text x="226.7" y="404" font-size="6" text-anchor="middle" font-weight="normal" fill="#161616" stroke="#161616" stroke-width="0.08">**</text>
<text x="204.6" y="560.4" font-size="8.9" text-anchor="middle" font-weight="normal" fill="#161616" stroke="#161616" stroke-width="0.08" textLength="25.3" lengthAdjust="spacingAndGlyphs">Control</text>
<text x="247.3" y="560.4" font-size="8.9" text-anchor="middle" font-weight="normal" fill="#161616" stroke="#161616" stroke-width="0.08" textLength="23.4" lengthAdjust="spacingAndGlyphs">Patient</text>
<text transform="translate(161.7,470.8) rotate(-90)" font-size="9" text-anchor="middle" fill="#161616" stroke="#161616" stroke-width="0.3" textLength="93.8" lengthAdjust="spacingAndGlyphs">Total luminescence (units x 10<tspan font-size="6.2" dy="-3.2">4</tspan><tspan dy="3.2">)</tspan></text>
<text x="287.5" y="378.3" font-size="11" text-anchor="start" font-weight="bold" fill="#000" stroke="#000" stroke-width="0.3">E</text>
<defs><filter id="b1" x="-50%" y="-50%" width="200%" height="200%"><feGaussianBlur stdDeviation="1.0"/></filter><filter id="b15" x="-50%" y="-50%" width="200%" height="200%"><feGaussianBlur stdDeviation="1.5"/></filter><filter id="b2" x="-50%" y="-50%" width="200%" height="200%"><feGaussianBlur stdDeviation="2.2"/></filter><filter id="bx" x="-50%" y="-50%" width="200%" height="200%"><feGaussianBlur stdDeviation="0.9 0.6"/></filter><filter id="b0" x="-10%" y="-10%" width="120%" height="120%"><feGaussianBlur stdDeviation="0.45"/></filter><linearGradient id="g2" x1="0" y1="0" x2="0" y2="1"><stop offset="0" stop-color="#cacaca"/><stop offset="1" stop-color="#d4d4d4"/></linearGradient><linearGradient id="gp" x1="0" y1="0" x2="0" y2="1"><stop offset="0" stop-color="#929292"/><stop offset="0.15" stop-color="#7c7c7c"/><stop offset="0.25" stop-color="#6a6a6a"/><stop offset="0.32" stop-color="#484848"/><stop offset="0.38" stop-color="#222222"/><stop offset="0.45" stop-color="#111111"/><stop offset="0.88" stop-color="#0a0a0a"/><stop offset="0.95" stop-color="#333333"/><stop offset="1" stop-color="#6a6a6a"/></linearGradient><linearGradient id="gc2" x1="0" y1="0" x2="0" y2="1"><stop offset="0" stop-color="#a8a8a8"/><stop offset="0.35" stop-color="#9c9c9c"/><stop offset="1" stop-color="#a8a8a8"/></linearGradient><filter id="nz" x="0" y="0" width="100%" height="100%"><feTurbulence type="fractalNoise" baseFrequency="0.45" numOctaves="2" seed="4" result="n"/><feColorMatrix in="n" type="matrix" values="0 0 0 0 0  0 0 0 0 0  0 0 0 0 0  0.42 0 0 0 -0.21" result="a0"/><feGaussianBlur in="a0" stdDeviation="0.6" result="a"/><feComposite in="a" in2="SourceGraphic" operator="in"/></filter><filter id="nzw" x="0" y="0" width="100%" height="100%"><feTurbulence type="fractalNoise" baseFrequency="0.5" numOctaves="2" seed="9" result="n"/><feColorMatrix in="n" type="matrix" values="0 0 0 0 1  0 0 0 0 1  0 0 0 0 1  0 0.36 0 0 -0.19" result="a0"/><feGaussianBlur in="a0" stdDeviation="0.6" result="a"/><feComposite in="a" in2="SourceGraphic" operator="in"/></filter><filter id="nzl" x="0" y="0" width="100%" height="100%"><feTurbulence type="fractalNoise" baseFrequency="0.45" numOctaves="2" seed="11" result="n"/><feColorMatrix in="n" type="matrix" values="0 0 0 0 0  0 0 0 0 0  0 0 0 0 0  0.45 0 0 0 -0.24" result="a0"/><feGaussianBlur in="a0" stdDeviation="0.4" result="a"/><feComposite in="a" in2="SourceGraphic" operator="in"/></filter></defs>
<text x="344.2" y="392.8" font-size="8.8" text-anchor="middle" font-weight="normal" fill="#161616" stroke="#161616" stroke-width="0.18" textLength="23.4" lengthAdjust="spacingAndGlyphs">Patient</text>
<text x="372.1" y="392.8" font-size="8.8" text-anchor="middle" font-weight="normal" fill="#161616" stroke="#161616" stroke-width="0.18" textLength="24.2" lengthAdjust="spacingAndGlyphs">Control</text>
<rect x="335.3" y="397.7" width="44.2" height="8.5" fill="#b0b0b0" stroke="#8e8e8e" stroke-width="0.8" filter="url(#b0)"/>
<rect x="335.3" y="397.7" width="44.2" height="8.5" fill="#000" filter="url(#nz)"/>
<rect x="335.3" y="397.7" width="44.2" height="8.5" fill="#000" filter="url(#nzw)"/>
<rect x="339.5" y="401.4" width="13.5" height="2.1" rx="1" fill="#606060" filter="url(#bx)"/>
<rect x="360" y="400.7" width="16" height="2.8" rx="1.2" fill="#4a4a4a" filter="url(#bx)"/>
<rect x="335.3" y="413.5" width="43.4" height="26.7" fill="#a6a6a6" stroke="#8e8e8e" stroke-width="0.8" filter="url(#b0)"/>
<rect x="335.3" y="413.5" width="43.4" height="26.7" fill="#000" filter="url(#nz)"/>
<rect x="335.3" y="413.5" width="43.4" height="26.7" fill="#000" filter="url(#nzw)"/>
<path d="M336.8,431 L338.6,415.5 L343.5,431 Z" fill="#5c5c5c" filter="url(#b1)"/>
<rect x="337.5" y="429.4" width="16" height="3" rx="1.2" fill="#575757" filter="url(#bx)"/>
<rect x="359" y="429.4" width="17.4" height="4.4" rx="2" fill="#3c3c3c" filter="url(#bx)"/>
<rect x="335.3" y="449.8" width="43.2" height="15.4" fill="#acacac" stroke="#8e8e8e" stroke-width="0.8" filter="url(#b0)"/>
<rect x="335.3" y="449.8" width="43.2" height="15.4" fill="#000" filter="url(#nz)"/>
<rect x="335.3" y="449.8" width="43.2" height="15.4" fill="#000" filter="url(#nzw)"/>
<rect x="338" y="452" width="16.5" height="3" fill="#5e5e5e" filter="url(#b1)"/>
<rect x="356" y="452" width="16.5" height="3" fill="#646464" filter="url(#b1)"/>
<rect x="337.5" y="455.6" width="17.5" height="4.6" rx="1.5" fill="#404040" filter="url(#b1)"/>
<rect x="355.5" y="455.6" width="18" height="4.6" rx="1.5" fill="#444444" filter="url(#b1)"/>
<rect x="336" y="451" width="38" height="10" fill="#000" filter="url(#nz)"/>
<rect x="339" y="461" width="2" height="3.5" fill="#808080" filter="url(#b0)"/>
<text x="298.1" y="405.55" font-size="7.8" text-anchor="start" font-weight="normal" fill="#161616" stroke="#161616" stroke-width="0.2" textLength="24.2" lengthAdjust="spacingAndGlyphs">22 kDa</text>
<line x1="325.4" y1="402.8" x2="331.7" y2="402.8" stroke="#111" stroke-width="1.25"/>
<text x="383.7" y="405.55" font-size="7.8" text-anchor="start" font-weight="normal" fill="#161616" stroke="#161616" stroke-width="0.2" textLength="28.8" lengthAdjust="spacingAndGlyphs">p22phox</text>
<text x="298.1" y="434.25" font-size="7.8" text-anchor="start" font-weight="normal" fill="#161616" stroke="#161616" stroke-width="0.2" textLength="24.2" lengthAdjust="spacingAndGlyphs">67 kDa</text>
<line x1="325.4" y1="431.5" x2="331.7" y2="431.5" stroke="#111" stroke-width="1.25"/>
<text x="383.7" y="434.25" font-size="7.8" text-anchor="start" font-weight="normal" fill="#161616" stroke="#161616" stroke-width="0.2" textLength="28.8" lengthAdjust="spacingAndGlyphs">p67phox</text>
<text x="298.1" y="459.75" font-size="7.8" text-anchor="start" font-weight="normal" fill="#161616" stroke="#161616" stroke-width="0.2" textLength="24.2" lengthAdjust="spacingAndGlyphs">47 kDa</text>
<line x1="325.4" y1="457.0" x2="331.7" y2="457.0" stroke="#111" stroke-width="1.25"/>
<text x="383.7" y="459.75" font-size="7.8" text-anchor="start" font-weight="normal" fill="#161616" stroke="#161616" stroke-width="0.2" textLength="28.8" lengthAdjust="spacingAndGlyphs">p47phox</text>
<text x="344.2" y="488.8" font-size="8.8" text-anchor="middle" font-weight="normal" fill="#161616" stroke="#161616" stroke-width="0.18" textLength="23.4" lengthAdjust="spacingAndGlyphs">Patient</text>
<text x="372.1" y="488.8" font-size="8.8" text-anchor="middle" font-weight="normal" fill="#161616" stroke="#161616" stroke-width="0.18" textLength="24.2" lengthAdjust="spacingAndGlyphs">Control</text>
<rect x="336.4" y="492.8" width="44.2" height="68.8" fill="#a2a2a2" stroke="#8e8e8e" stroke-width="0.8" filter="url(#b0)"/>
<rect x="336.4" y="492.8" width="44.2" height="68.8" fill="#000" filter="url(#nz)"/>
<rect x="336.4" y="492.8" width="44.2" height="68.8" fill="#000" filter="url(#nzw)"/>
<path d="M343,497.5 C346,495 354,495 356.5,497.5 L359,520 L359.5,553 C357,559.5 343,559.5 340.5,553 L341,520 Z" fill="url(#gp)" filter="url(#b1)"/>
<rect x="343" y="498" width="13" height="20" fill="#000" filter="url(#nz)"/>
<ellipse cx="369.8" cy="528.2" rx="5.2" ry="2.9" fill="#6c6c6c" filter="url(#b1)"/>
<text x="296" y="519.0" font-size="7.8" text-anchor="start" font-weight="normal" fill="#161616" stroke="#161616" stroke-width="0.2" textLength="28" lengthAdjust="spacingAndGlyphs">102 kDa</text>
<line x1="326.7" y1="516.4" x2="333.2" y2="516.4" stroke="#111" stroke-width="1.25"/>
<text x="297.8" y="528.5" font-size="7.8" text-anchor="start" font-weight="normal" fill="#161616" stroke="#161616" stroke-width="0.2" textLength="23.3" lengthAdjust="spacingAndGlyphs">76 kDa</text>
<line x1="326.7" y1="525.9" x2="333.2" y2="525.9" stroke="#111" stroke-width="1.25"/>
<text x="298.6" y="546.1" font-size="7.8" text-anchor="start" font-weight="normal" fill="#161616" stroke="#161616" stroke-width="0.2" textLength="24.7" lengthAdjust="spacingAndGlyphs">52 kDa</text>
<line x1="326.7" y1="543.5" x2="333.2" y2="543.5" stroke="#111" stroke-width="1.25"/>
<text x="384.5" y="529.7" font-size="7.9" text-anchor="start" font-weight="normal" fill="#161616" stroke="#161616" stroke-width="0.2" textLength="34.2" lengthAdjust="spacingAndGlyphs">#p91phox</text>
<text x="432.6" y="489" font-size="8.8" text-anchor="middle" font-weight="normal" fill="#161616" stroke="#161616" stroke-width="0.18" textLength="31.7" lengthAdjust="spacingAndGlyphs">Control 2</text>
<rect x="422" y="492.5" width="21.8" height="69.2" fill="url(#g2)" filter="url(#b0)"/>
<rect x="425.3" y="496" width="16.4" height="48" fill="url(#gc2)" filter="url(#b1)"/>
<rect x="425.5" y="546" width="16" height="14" fill="#c0c0c0" filter="url(#b1)"/>
<rect x="425" y="505.5" width="16.5" height="3" fill="#a0a0a0" filter="url(#b1)"/>
<rect x="424.8" y="518.5" width="17.4" height="12.5" rx="3" fill="#1c1c1c" filter="url(#b15)"/>
<ellipse cx="433" cy="536.5" rx="7.5" ry="2.6" fill="#8a8a8a" filter="url(#b1)"/>
<ellipse cx="434.5" cy="537.3" rx="3" ry="1.4" fill="#555" filter="url(#b1)"/>
<rect x="423.5" y="541.5" width="17.8" height="1.1" fill="#505050" filter="url(#b0)"/>
<rect x="425" y="549.3" width="16" height="0.9" fill="#aaa" filter="url(#b0)"/>
<rect x="425" y="554.3" width="16" height="0.9" fill="#aaa" filter="url(#b0)"/>
<rect x="422" y="492.5" width="21.8" height="69.2" fill="#000" filter="url(#nzl)"/>
<line x1="446.7" y1="518.7" x2="452.7" y2="518.7" stroke="#111" stroke-width="1.25"/>
<text x="456.4" y="521.45" font-size="7.9" text-anchor="start" font-weight="normal" fill="#161616" stroke="#161616" stroke-width="0.2" textLength="28.5" lengthAdjust="spacingAndGlyphs">102 kDa</text>
<line x1="446.7" y1="527.9" x2="452.7" y2="527.9" stroke="#111" stroke-width="1.25"/>
<text x="456.4" y="530.65" font-size="7.9" text-anchor="start" font-weight="normal" fill="#161616" stroke="#161616" stroke-width="0.2" textLength="23.7" lengthAdjust="spacingAndGlyphs">76 kDa</text>
<line x1="446.7" y1="545.5" x2="452.7" y2="545.5" stroke="#111" stroke-width="1.25"/>
<text x="456.4" y="548.25" font-size="7.9" text-anchor="start" font-weight="normal" fill="#161616" stroke="#161616" stroke-width="0.2" textLength="23.7" lengthAdjust="spacingAndGlyphs">52 kDa</text>
</svg></body></html>
